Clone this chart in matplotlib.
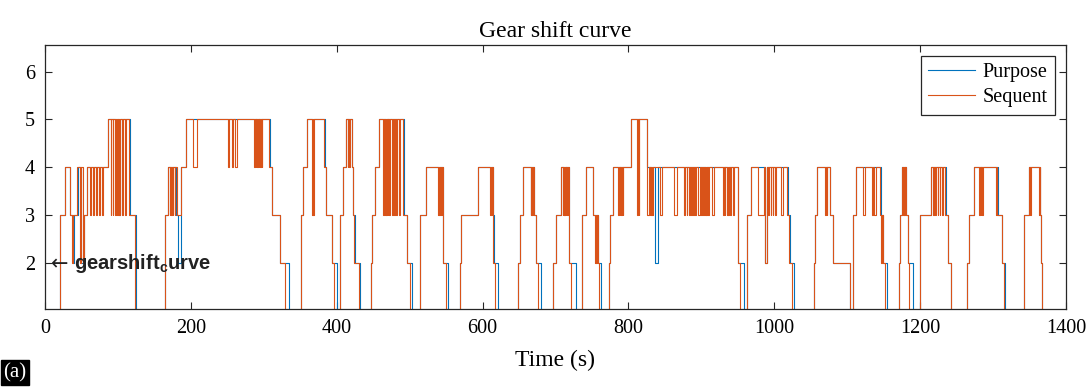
import matplotlib
matplotlib.use("Agg")
import matplotlib.pyplot as plt

# gear change points (time in s, gear)
sequent = [
    (0, 1),
    (21, 3), (28, 4), (34, 3), (37, 2), (39, 3), (44, 4), (48, 2), (50, 4), (52, 2), (54, 3), (57, 4),
    (62, 3), (63, 4), (66, 3), (67, 4), (70, 3), (71, 4), (74, 3), (75, 4), (78, 3), (79, 4),
    (86, 5), (90, 3), (91, 5), (93, 3), (94, 5), (96, 3), (97, 5), (99, 3), (100, 5), (102, 3), (103, 5),
    (106, 3), (107, 5), (110, 3), (111, 5), (115, 3), (123, 1),
    (165, 3), (169, 4), (171, 3), (172, 4), (173, 3), (174, 4), (175, 3), (176, 4), (178, 3), (179, 4),
    (181, 3), (187, 4), (193, 5), (203, 4), (208, 5), (251, 4), (253, 5), (256, 4), (258, 5), (261, 4), (263, 5),
    (287, 4), (288, 5), (289, 4), (290, 5), (291, 4), (292, 5), (293, 4), (294, 5), (295, 4), (296, 5),
    (297, 4), (298, 5), (307, 4), (311, 3), (322, 2), (329, 1),
    (351, 3), (354, 4), (359, 5), (366, 3), (367, 5), (368, 3), (369, 5), (383, 4), (385, 3), (393, 2), (396, 1),
    (405, 3), (409, 4), (413, 5), (415, 4), (416, 5), (417, 4), (418, 5), (421, 4), (422, 3), (424, 2), (430, 1),
    (447, 2), (449, 3), (453, 4), (458, 5), (464, 3), (465, 5), (466, 3), (467, 5), (468, 3), (469, 5),
    (470, 3), (471, 5), (472, 3), (473, 5), (476, 3), (477, 5), (479, 3), (480, 5), (482, 3), (483, 5),
    (486, 3), (487, 5), (491, 3), (497, 2), (500, 1),
    (514, 3), (523, 4), (539, 3), (540, 4), (541, 3), (542, 4), (543, 3), (544, 4), (546, 2), (550, 1),
    (569, 2), (571, 3), (594, 4), (610, 3), (611, 4), (612, 3), (613, 4), (614, 3), (615, 2), (617, 1),
    (649, 2), (651, 3), (655, 4), (666, 3), (667, 4), (668, 3), (669, 4), (670, 3), (673, 2), (676, 1),
    (697, 2), (701, 3), (708, 4), (710, 3), (711, 4), (712, 3), (713, 4), (714, 3), (715, 4), (716, 3),
    (717, 4), (719, 2), (721, 1),
    (737, 3), (742, 4), (751, 3), (754, 2), (755, 3), (756, 2), (757, 3), (758, 2), (760, 1),
    (773, 2), (775, 3), (779, 4), (786, 3), (787, 4), (788, 3), (789, 4), (790, 3), (791, 4), (792, 3), (793, 4),
    (803, 5), (812, 3), (813, 5), (814, 3), (815, 5), (825, 3), (828, 4), (829, 3), (830, 4), (831, 3),
    (832, 4), (833, 3), (834, 4), (844, 3), (846, 4), (862, 3), (867, 4), (876, 3), (877, 4), (880, 3),
    (881, 4), (883, 3), (884, 4), (886, 3), (887, 4), (889, 3), (890, 4), (892, 3), (893, 4), (896, 3),
    (898, 4), (900, 3), (901, 4), (903, 3), (904, 4), (905, 3), (906, 4), (907, 3), (908, 4), (909, 3),
    (911, 4), (915, 3), (917, 4), (930, 3), (931, 4), (932, 3), (933, 4), (935, 3), (936, 4), (937, 3),
    (938, 4), (940, 3), (941, 4), (943, 3), (945, 4), (950, 2), (953, 1),
    (963, 3), (968, 4), (978, 3), (986, 4), (988, 2), (990, 4), (992, 3), (993, 4), (995, 3), (996, 4),
    (998, 3), (999, 4), (1001, 3), (1002, 4), (1010, 3), (1012, 4), (1018, 3), (1020, 2), (1024, 1),
    (1055, 2), (1056, 3), (1059, 4), (1070, 3), (1071, 4), (1072, 3), (1073, 4), (1077, 3), (1080, 2), (1104, 1),
    (1108, 3), (1112, 4), (1122, 3), (1124, 4), (1134, 3), (1135, 4), (1137, 3), (1139, 4), (1145, 3),
    (1147, 2), (1148, 3), (1149, 2), (1152, 1),
    (1171, 2), (1172, 3), (1175, 4), (1177, 3), (1178, 4), (1179, 3), (1180, 4), (1181, 3), (1183, 2), (1185, 1),
    (1200, 3), (1215, 4), (1218, 3), (1219, 4), (1221, 3), (1222, 4), (1224, 3), (1225, 4), (1227, 3),
    (1228, 4), (1230, 3), (1231, 4), (1234, 3), (1238, 2), (1242, 1),
    (1265, 2), (1267, 3), (1274, 4), (1281, 3), (1282, 4), (1283, 3), (1284, 4), (1285, 3), (1286, 4),
    (1304, 3), (1305, 4), (1306, 3), (1313, 2), (1315, 1),
    (1343, 3), (1349, 4), (1351, 3), (1352, 4), (1363, 3), (1364, 4), (1365, 3), (1366, 2), (1367, 1),
    (1370, 1),
]

purpose = [
    (0, 1),
    (21, 3), (28, 4), (35, 3), (38, 2), (40, 3), (45, 4), (49, 2), (53, 3), (57, 4),
    (86, 5), (97, 4), (99, 5), (101, 3), (103, 5), (116, 3), (125, 1),
    (165, 3), (169, 4), (180, 3), (183, 2), (187, 4), (193, 5), (308, 4), (311, 3), (322, 2), (335, 1),
    (351, 3), (354, 4), (359, 5), (384, 4), (386, 3), (393, 2), (400, 1),
    (405, 3), (409, 4), (413, 5), (421, 4), (423, 3), (425, 2), (432, 1),
    (447, 2), (449, 3), (453, 4), (458, 5), (492, 3), (497, 2), (503, 1),
    (514, 3), (523, 4), (546, 2), (553, 1),
    (569, 2), (571, 3), (594, 4), (611, 3), (612, 4), (614, 3), (616, 2), (621, 1),
    (649, 2), (651, 3), (655, 4), (667, 3), (668, 4), (670, 3), (673, 2), (680, 1),
    (697, 2), (701, 3), (708, 4), (712, 3), (713, 4), (718, 3), (719, 2), (728, 1),
    (737, 3), (742, 4), (752, 3), (758, 2), (763, 1),
    (773, 2), (775, 3), (779, 4), (803, 5), (826, 4), (837, 2), (840, 4), (950, 2), (958, 1),
    (963, 3), (968, 4), (988, 2), (990, 4), (1019, 3), (1021, 2), (1027, 1),
    (1055, 2), (1056, 3), (1059, 4), (1077, 3), (1080, 2), (1104, 1),
    (1108, 3), (1112, 4), (1146, 3), (1149, 2), (1155, 1),
    (1171, 2), (1172, 3), (1175, 4), (1178, 3), (1179, 4), (1181, 3), (1183, 2), (1190, 1),
    (1200, 3), (1215, 4), (1235, 3), (1238, 2), (1242, 1),
    (1265, 2), (1267, 3), (1274, 4), (1305, 3), (1306, 4), (1307, 3), (1313, 2), (1317, 1),
    (1343, 3), (1349, 4), (1365, 3), (1366, 2), (1367, 1),
    (1370, 1),
]

x_ticks = [0, 200, 400, 600, 800, 1000, 1200, 1400]
y_ticks = [2, 3, 4, 5, 6]

plt.rcParams['font.family'] = ['Liberation Serif', 'DejaVu Serif']
axis_col = '#262626'

fig = plt.figure(figsize=(10.91, 3.89), dpi=100)
ax = fig.add_axes([0.0412, 0.2057, 0.9358, 0.6783])

pt, pg = zip(*purpose)
st, sg = zip(*sequent)
ax.step(pt, pg, where='post', color='#0072BD', lw=0.8, label='Purpose')
ax.step(st, sg, where='post', color='#D95319', lw=0.8, label='Sequent')

ax.set_xlim(0, 1400)
ax.set_ylim(1.05, 6.55)
ax.set_xticks(x_ticks)
ax.set_yticks(y_ticks)
ax.tick_params(direction='in', length=5, width=0.8, top=True, right=True,
               labelsize=14.5, colors=axis_col, labelcolor='black', pad=7)
for s in ax.spines.values():
    s.set_color(axis_col)
    s.set_linewidth(0.9)

ax.set_title('Gear shift curve', fontsize=17, pad=6)
ax.set_xlabel('Time (s)', fontsize=17, labelpad=9)

leg = ax.legend(loc='upper right', fontsize=14.5, handlelength=2.3, handletextpad=0.4,
                borderpad=0.35, labelspacing=0.3, fancybox=False, framealpha=1,
                borderaxespad=0.55)
leg.get_frame().set_edgecolor(axis_col)
leg.get_frame().set_linewidth(0.9)

ax.text(2, 2, r'$\leftarrow$', fontsize=15, color='#222222', va='center', ha='left')
ax.text(40, 2, 'gearshift$_\\mathregular{c}$urve', fontsize=14.5, fontweight='bold',
        family=['Liberation Sans', 'DejaVu Sans'], color='#222222', va='center', ha='left')

fig.text(0.003, 0.03, '(a)', color='white', fontsize=15,
         bbox=dict(facecolor='black', edgecolor='black', pad=2))

fig.savefig('out.png', dpi=100)
